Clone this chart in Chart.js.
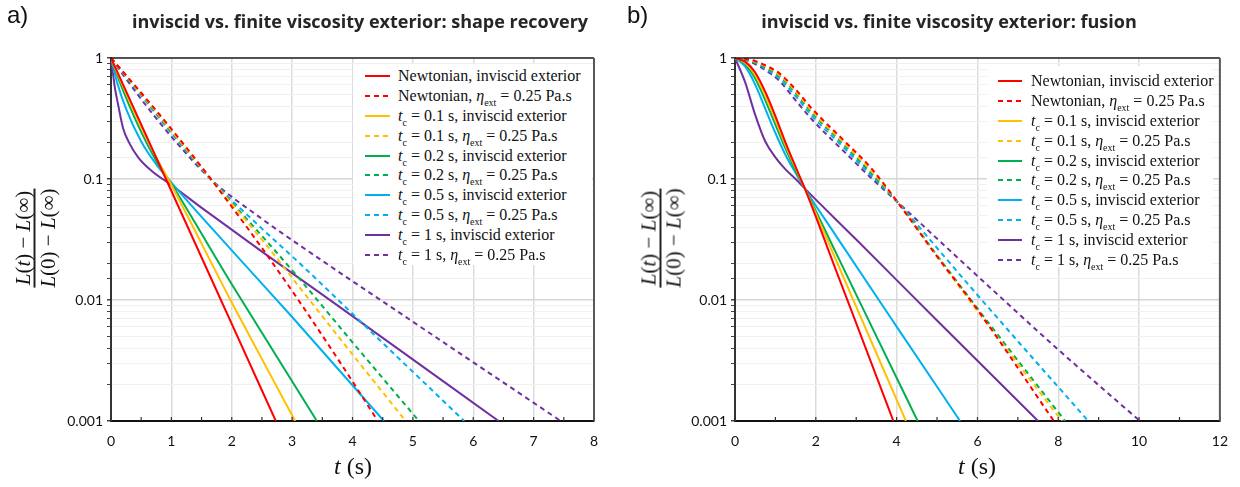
<!DOCTYPE html>
<html>
<head>
<meta charset="utf-8">
<script src="https://cdn.jsdelivr.net/npm/chart.js@4.4.0/dist/chart.umd.min.js"></script>
<style>
  body { margin: 0; width: 1240px; height: 487px; background: #fff; position: relative; overflow: hidden; }
  canvas { position: absolute; top: 0; }
  .tag { position: absolute; top: 1px; font: 24px "Liberation Sans", Arial, sans-serif; color: #111; }
  .title { position: absolute; top: 9px; font: bold 18px "Open Sans", sans-serif; color: #262626; white-space: nowrap; transform: translateX(-50%); }
  .xlab { position: absolute; top: 453px; font: 24px "Liberation Serif", serif; color: #111; white-space: nowrap; transform: translateX(-50%); }
  .ylab { position: absolute; font: 21px "Liberation Serif", serif; color: #111; text-align: center; white-space: nowrap;
          line-height: 22px; transform: translate(-50%, -50%) rotate(-90deg); }
  .ylab .den { border-top: 2px solid #222; padding-top: 1px; }
  .legend { position: absolute; background: #fff; font: 16px "Liberation Serif", serif; color: #111; }
  .legend .row { height: 19.9px; display: flex; align-items: center; white-space: nowrap; }
  .legend svg { flex: none; }
  .legend sub { font-size: 10px; vertical-align: -5px; line-height: 0; }
</style>
</head>
<body>
<canvas id="shapeChart" width="620" height="487" style="left:0"></canvas>
<canvas id="fusionChart" width="620" height="487" style="left:620px"></canvas>

<div class="tag" style="left:7px">a)</div>
<div class="tag" style="left:627px">b)</div>
<div class="title" style="left:360px">inviscid vs. finite viscosity exterior: shape recovery</div>
<div class="title" style="left:949px">inviscid vs. finite viscosity exterior: fusion</div>

<div class="ylab" style="left:35px;top:238px">
  <div><i>L</i>(<i>t</i>) − <i>L</i>(∞)</div>
  <div class="den"><i>L</i>(0) − <i>L</i>(∞)</div>
</div>
<div class="ylab" style="left:661px;top:238px">
  <div><i>L</i>(<i>t</i>) − <i>L</i>(∞)</div>
  <div class="den"><i>L</i>(0) − <i>L</i>(∞)</div>
</div>
<div class="xlab" style="left:353px"><i>t</i> (s)</div>
<div class="xlab" style="left:977px"><i>t</i> (s)</div>

<div class="legend" id="shapeLegend" style="left:353px;top:64px;width:239px;height:201px;padding-top:2px;box-sizing:border-box;padding-left:12px"></div>
<div class="legend" id="fusionLegend" style="left:987px;top:66px;width:226px;height:201px;padding-top:5px;box-sizing:border-box;padding-left:11px"></div>

<script>
// [t (s), (L(t)-L(inf))/(L(0)-L(inf))]

// a) shape recovery
const shapeNewtInv = [[0, 1], [1, 0.0796], [2, 0.00634], [2.73, 0.001]];
const shapeNewtVisc = [[0, 1], [0.5, 0.516], [1, 0.259], [1.67, 0.0977], [2.5, 0.0269], [3.13, 0.00955], [3.8, 0.00302], [4.42, 0.001]];
const shapeTc01Inv = [[0, 1], [0.1, 0.759], [0.25, 0.513], [0.5, 0.269], [0.75, 0.151], [1, 0.0891], [2, 0.00955], [3.05, 0.001]];
const shapeTc01Visc = [[0, 1], [0.5, 0.507], [1, 0.251], [1.67, 0.0977], [2.5, 0.0316], [3.13, 0.0126], [4, 0.00355], [4.88, 0.001]];
const shapeTc02Inv = [[0, 1], [0.1, 0.724], [0.25, 0.468], [0.5, 0.245], [0.75, 0.141], [1, 0.0912], [2, 0.0135], [3.41, 0.001]];
const shapeTc02Visc = [[0, 1], [0.5, 0.501], [1, 0.245], [1.67, 0.0977], [2.5, 0.0339], [3.13, 0.0148], [4, 0.00447], [5.1, 0.001]];
const shapeTc05Inv = [[0, 1], [0.1, 0.631], [0.25, 0.38], [0.5, 0.204], [0.75, 0.132], [1, 0.0933], [2, 0.0257], [3, 0.00724], [4.52, 0.001]];
const shapeTc05Visc = [[0, 1], [0.5, 0.49], [1, 0.24], [1.67, 0.0977], [2.5, 0.0389], [3.13, 0.02], [4.5, 0.00442], [5.85, 0.001]];
const shapeTc1Inv = [[0, 1], [0.066, 0.562], [0.12, 0.407], [0.2, 0.263], [0.3, 0.2], [0.45, 0.151], [0.67, 0.117], [1, 0.0891], [1.56, 0.055], [2.5, 0.0251], [3.71, 0.00933], [6.42, 0.001]];
const shapeTc1Visc = [[0, 1], [0.5, 0.457], [1, 0.224], [1.67, 0.0977], [2.5, 0.0468], [3.13, 0.0282], [5, 0.00661], [7.45, 0.001]];

// b) fusion
const fusionNewtInv = [[0, 1], [0.25, 0.933], [0.5, 0.759], [0.75, 0.525], [1, 0.331], [1.25, 0.2], [1.5, 0.126], [1.73, 0.0832], [2.5, 0.0176], [3.5, 0.00234], [3.92, 0.001]];
const fusionNewtVisc = [[0, 1], [0.25, 0.986], [0.5, 0.944], [0.75, 0.871], [1.1, 0.746], [1.5, 0.55], [1.91, 0.38], [2.72, 0.204], [3.37, 0.123], [4.02, 0.0646], [5, 0.0229], [6, 0.00832], [7.89, 0.001]];
const fusionTc01Inv = [[0, 1], [0.25, 0.912], [0.5, 0.724], [0.75, 0.49], [1, 0.309], [1.25, 0.191], [1.5, 0.123], [1.73, 0.0832], [2.5, 0.0214], [3.5, 0.00363], [4.23, 0.001]];
const fusionTc01Visc = [[0, 1], [0.25, 0.984], [0.5, 0.933], [0.75, 0.855], [1.1, 0.724], [1.5, 0.531], [1.91, 0.363], [2.72, 0.195], [3.37, 0.117], [4.02, 0.0646], [5, 0.0229], [6, 0.00813], [8.09, 0.001]];
const fusionTc02Inv = [[0, 1], [0.25, 0.891], [0.5, 0.676], [0.75, 0.447], [1, 0.282], [1.25, 0.178], [1.5, 0.117], [1.73, 0.0832], [2.5, 0.0245], [3.5, 0.00501], [4.52, 0.001]];
const fusionTc02Visc = [[0, 1], [0.25, 0.979], [0.5, 0.923], [0.75, 0.836], [1.1, 0.708], [1.5, 0.513], [1.91, 0.351], [2.72, 0.188], [3.37, 0.112], [4.02, 0.0646], [5, 0.0234], [6, 0.00851], [8.17, 0.001]];
const fusionTc05Inv = [[0, 1], [0.25, 0.851], [0.5, 0.603], [0.75, 0.38], [1, 0.24], [1.25, 0.158], [1.5, 0.112], [1.73, 0.0832], [2.5, 0.0339], [4, 0.00603], [5.57, 0.001]];
const fusionTc05Visc = [[0, 1], [0.25, 0.975], [0.5, 0.912], [0.75, 0.813], [1.1, 0.676], [1.5, 0.484], [1.91, 0.331], [2.72, 0.178], [3.37, 0.107], [4.02, 0.0646], [5, 0.0269], [6, 0.011], [8.74, 0.001]];
const fusionTc1Inv = [[0, 1], [0.25, 0.631], [0.5, 0.339], [0.75, 0.204], [1, 0.151], [1.25, 0.12], [1.5, 0.1], [1.73, 0.0832], [3, 0.0316], [5, 0.00676], [7.5, 0.001]];
const fusionTc1Visc = [[0, 1], [0.25, 0.966], [0.5, 0.891], [0.75, 0.794], [1.1, 0.646], [1.5, 0.447], [1.91, 0.309], [2.72, 0.166], [3.37, 0.102], [4.02, 0.0646], [6, 0.0158], [8, 0.00389], [10.02, 0.001]];

const seriesColors = ["#ff0000", "#ff0000", "#ffc000", "#ffc000", "#00b050", "#00b050", "#00b0f0", "#00b0f0", "#7030a0", "#7030a0"];
const seriesDashed = [false, true, false, true, false, true, false, true, false, true];
const legendLabels = [
  "Newtonian, inviscid exterior",
  "Newtonian, <i>η</i><sub>ext</sub> = 0.25 Pa.s",
  "<i>t</i><sub>c</sub> = 0.1 s, inviscid exterior",
  "<i>t</i><sub>c</sub> = 0.1 s, <i>η</i><sub>ext</sub> = 0.25 Pa.s",
  "<i>t</i><sub>c</sub> = 0.2 s, inviscid exterior",
  "<i>t</i><sub>c</sub> = 0.2 s, <i>η</i><sub>ext</sub> = 0.25 Pa.s",
  "<i>t</i><sub>c</sub> = 0.5 s, inviscid exterior",
  "<i>t</i><sub>c</sub> = 0.5 s, <i>η</i><sub>ext</sub> = 0.25 Pa.s",
  "<i>t</i><sub>c</sub> = 1 s, inviscid exterior",
  "<i>t</i><sub>c</sub> = 1 s, <i>η</i><sub>ext</sub> = 0.25 Pa.s"
];
const yTickLabels = { 1: "1", 0.1: "0.1", 0.01: "0.01", 0.001: "0.001" };

const shapeSeries = [shapeNewtInv, shapeNewtVisc, shapeTc01Inv, shapeTc01Visc, shapeTc02Inv,
  shapeTc02Visc, shapeTc05Inv, shapeTc05Visc, shapeTc1Inv, shapeTc1Visc];
const fusionSeries = [fusionNewtInv, fusionNewtVisc, fusionTc01Inv, fusionTc01Visc, fusionTc02Inv,
  fusionTc02Visc, fusionTc05Inv, fusionTc05Visc, fusionTc1Inv, fusionTc1Visc];

const isDecade = (v) => Math.abs(Math.log10(v) - Math.round(Math.log10(v))) < 1e-6;

// frame on top/right and short inward ticks on the t axis
const framePlugin = {
  id: "frame",
  afterDraw(chart) {
    const { ctx, chartArea: a } = chart;
    const xs = chart.scales.x;
    ctx.save();
    ctx.strokeStyle = "#333";
    ctx.lineWidth = 1.2;
    xs.ticks.forEach(t => {
      const px = xs.getPixelForValue(t.value);
      ctx.beginPath();
      ctx.moveTo(px, a.bottom);
      ctx.lineTo(px, a.bottom - 4);
      ctx.stroke();
    });
    ctx.strokeStyle = "#222";
    ctx.lineWidth = 1.5;
    ctx.beginPath();
    ctx.moveTo(a.left, a.top);
    ctx.lineTo(a.right, a.top);
    ctx.stroke();
    ctx.strokeStyle = "#595959";
    ctx.lineWidth = 2;
    ctx.beginPath();
    ctx.moveTo(a.right, a.top);
    ctx.lineTo(a.right, a.bottom);
    ctx.stroke();
    ctx.restore();
  }
};

function buildChart(canvasId, series, xMax, xStep, gridEvery, yAxisWidth, padRight) {
  const datasets = series.map((pts, i) => ({
    data: pts.map(p => ({ x: p[0], y: p[1] })),
    borderColor: seriesColors[i],
    borderWidth: 2,
    borderDash: seriesDashed[i] ? [5, 4] : [],
    pointRadius: 0,
    fill: false,
    cubicInterpolationMode: "monotone"
  }));

  return new Chart(document.getElementById(canvasId), {
    type: "line",
    data: { datasets },
    options: {
      responsive: false,
      animation: false,
      layout: { padding: { top: 58, right: padRight, bottom: 0, left: 0 } },
      plugins: { legend: { display: false }, tooltip: { enabled: false } },
      scales: {
        x: {
          type: "linear",
          min: 0,
          max: xMax,
          afterFit: s => { s.height = 66; },
          ticks: {
            stepSize: xStep,
            autoSkip: false,
            maxRotation: 0,
            padding: 12,
            color: "#111",
            font: { family: "Lato", size: 14 },
            callback: v => (v % gridEvery === 0 ? String(v) : "")
          },
          grid: {
            color: ctx => (ctx.tick && ctx.tick.value % gridEvery === 0 ? "#dcdcdc" : "rgba(0,0,0,0)"),
            lineWidth: 1.5,
            drawTicks: false
          },
          border: { color: "#111", width: 2 }
        },
        y: {
          type: "logarithmic",
          min: 0.001,
          max: 1,
          afterFit: s => { s.width = yAxisWidth; },
          ticks: {
            autoSkip: false,
            padding: 4,
            color: "#111",
            font: { family: "Lato", size: 14 },
            callback: v => (isDecade(v) ? yTickLabels[v] || String(v) : "")
          },
          grid: {
            color: ctx => (isDecade(ctx.tick.value) ? "#d6d6d6" : "#f0f0f0"),
            lineWidth: ctx => (isDecade(ctx.tick.value) ? 1.5 : 1),
            tickColor: "#444",
            tickLength: 4
          },
          border: { color: "#333", width: 2 }
        }
      }
    },
    plugins: [framePlugin]
  });
}

function buildLegend(id, sampleWidth, gap) {
  const box = document.getElementById(id);
  legendLabels.forEach((label, i) => {
    const row = document.createElement("div");
    row.className = "row";
    const dash = seriesDashed[i] ? ' stroke-dasharray="5 4"' : "";
    row.innerHTML =
      `<svg width="${sampleWidth}" height="6" style="margin-right:${gap}px">` +
      `<line x1="0" y1="3" x2="${sampleWidth}" y2="3" stroke="${seriesColors[i]}" stroke-width="2"${dash}/></svg>` +
      `<span>${label}</span>`;
    box.appendChild(row);
  });
}

buildChart("shapeChart", shapeSeries, 8, 0.5, 1, 111, 26);
buildChart("fusionChart", fusionSeries, 12, 1, 2, 115, 13);
buildLegend("shapeLegend", 25, 8);
buildLegend("fusionLegend", 24, 9);
</script>
</body>
</html>
